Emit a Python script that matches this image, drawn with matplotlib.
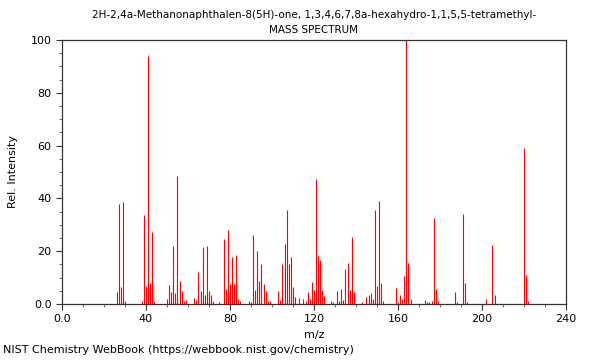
import matplotlib
matplotlib.use("Agg")
import matplotlib.pyplot as plt
from matplotlib.ticker import MultipleLocator

title = "2H-2,4a-Methanonaphthalen-8(5H)-one, 1,3,4,6,7,8a-hexahydro-1,1,5,5-tetramethyl-"

# m/z and relative intensity
mz = [26, 27, 28, 29, 30, 38, 39, 40, 41, 42, 43, 44,
      50, 51, 52, 53, 54, 55, 56, 57, 58, 59,
      63, 64, 65, 66, 67, 68, 69, 70, 71, 72, 75,
      77, 78, 79, 80, 81, 82, 83, 84, 85,
      89, 90, 91, 92, 93, 94, 95, 96, 97, 98, 99,
      103, 104, 105, 106, 107, 108, 109, 110, 111, 113, 115, 116, 117, 118, 119, 120,
      121, 122, 123, 124, 125, 128, 129, 131, 132, 133, 134, 135, 136, 137, 138, 139,
      143, 145, 146, 147, 148, 149, 150, 151, 152, 153,
      159, 160, 161, 162, 163, 164, 165, 166,
      173, 174, 175, 176, 177, 178, 179,
      187, 188, 191, 192, 193, 202, 205, 206, 220, 221, 222]
intensity = [4.4, 37.9, 6.4, 38.6, 1.0, 1.0, 33.7, 6.8, 93.8, 7.8, 27.3, 1.3,
             1.8, 7.1, 4.7, 22.0, 4.2, 48.4, 8.8, 4.8, 1.1, 1.4,
             2.1, 1.4, 12.0, 4.9, 21.5, 3.5, 21.8, 4.9, 3.5, 1.0, 0.9,
             24.5, 5.7, 28.2, 7.7, 17.8, 7.4, 18.4, 1.8, 1.3,
             1.3, 0.9, 26.1, 5.3, 20.0, 8.8, 15.0, 7.6, 4.8, 1.1, 1.1,
             4.9, 1.4, 15.2, 22.7, 35.6, 15.2, 17.8, 6.4, 2.7, 2.4, 1.9, 1.3, 4.7, 1.8, 8.5, 5.3,
             47.2, 18.1, 16.5, 5.2, 2.9, 1.1, 0.9, 4.8, 1.1, 5.6, 1.5, 13.3, 15.7, 5.2, 25.3, 4.5,
             0.8, 2.7, 3.4, 4.3, 1.9, 35.7, 6.7, 39.0, 7.8, 1.0,
             5.9, 0.8, 3.4, 1.8, 10.5, 100.0, 15.4, 1.8,
             1.5, 0.9, 0.9, 1.1, 32.6, 5.7, 1.1,
             4.5, 0.8, 34.0, 7.8, 0.8, 1.9, 22.2, 3.3, 59.1, 11.0, 1.3]

fig = plt.figure(figsize=(6, 3.6), dpi=100)
ax = fig.add_axes([0.1033, 0.1556, 0.84, 0.7333])

ax.vlines(mz, 0, intensity, color='red', linewidth=0.8)

ax.set_xlim(0, 240)
ax.set_ylim(0, 100)
ax.xaxis.set_minor_locator(MultipleLocator(10))
ax.yaxis.set_minor_locator(MultipleLocator(5))
ax.set_xticks([0, 40, 80, 120, 160, 200, 240])
ax.set_xticklabels(['0.0', '40', '80', '120', '160', '200', '240'])
ax.set_yticks([0, 20, 40, 60, 80, 100])
ax.set_yticklabels(['0.0', '20', '40', '60', '80', '100'])
ax.tick_params(labelsize=8, length=4, width=0.8, color='#333333')
ax.tick_params(which='minor', length=2, width=0.6, color='#555555')
for s in ax.spines.values():
    s.set_color('#333333')
    s.set_linewidth(0.9)

ax.set_xlabel('m/z', fontsize=8)
ax.set_ylabel('Rel. Intensity', fontsize=8, labelpad=9)
ax.set_title(title + "\nMASS SPECTRUM", fontsize=7.5, linespacing=1.6, pad=5)

fig.text(0.005, 0.02, 'NIST Chemistry WebBook (https://webbook.nist.gov/chemistry)', fontsize=8)

fig.savefig('out.png', dpi=100)
